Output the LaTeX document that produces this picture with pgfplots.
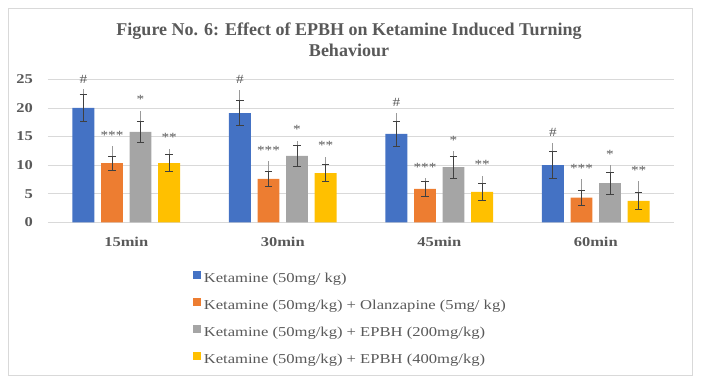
\documentclass[border=0pt]{standalone}
\usepackage{pgfplots}
\pgfplotsset{compat=1.18}
\usepackage{pgfplotstable}
\usepackage{fontspec}
\setmainfont[FakeStretch=1.22]{Liberation Serif}
\newfontfamily\titlefont{Liberation Serif}
\definecolor{cblue}{HTML}{4472C4}
\definecolor{corange}{HTML}{ED7D31}
\definecolor{cgray}{HTML}{A5A5A5}
\definecolor{cyellow}{HTML}{FFC000}
\definecolor{gridc}{HTML}{D9D9D9}
\definecolor{txtc}{HTML}{595959}
\definecolor{errc}{HTML}{404040}
\definecolor{lightc}{HTML}{9A9A9A}

\pgfplotstableread{
x y err top laby
0 20.0 2.3 23.25 24.3
1 19.1 2.25 23.1 24.3
2 15.45 2.25 19.05 20.2
3 10.0 2.3 13.8 14.98
}\tblue
\pgfplotstableread{
x y err top laby
0 10.35 1.2 13.3 14.4
1 7.6 1.3 10.8 11.83
2 5.85 1.3 7.7 8.85
3 4.3 1.3 7.6 8.68
}\torange
\pgfplotstableread{
x y err top laby
0 15.8 1.85 19.5 20.75
1 11.6 1.85 14.2 15.5
2 9.65 1.9 12.4 13.64
3 6.85 1.9 10.0 11.19
}\tgray
\pgfplotstableread{
x y err top laby
0 10.35 1.5 12.9 14.05
1 8.6 1.5 11.5 12.75
2 5.3 1.5 8.1 9.38
3 3.75 1.5 7.2 8.39
}\tyellow

\pgfplotsset{
  darkerr/.style={draw=none, forget plot, error bars/.cd, y dir=both, y explicit,
    error bar style={draw=errc, line width=0.9pt},
    error mark options={rotate=90, draw=errc, line width=0.9pt, mark size=3.7pt}},
  lighterr/.style={draw=none, forget plot, error bars/.cd, y dir=plus, y explicit, error mark=none,
    error bar style={draw=lightc, line width=0.9pt}},
}

\begin{document}
\begin{tikzpicture}
\begin{axis}[
  scale only axis, width=626pt, height=143pt,
  xmin=-0.5, xmax=3.5, ymin=0, ymax=25,
  xtick={0,1,2,3}, xticklabels={15min,30min,45min,60min},
  ytick={0,5,...,25},
  ymajorgrids, grid style={draw=gridc, line width=0.8pt},
  axis line style={draw=none},
  major tick length=0,
  /pgf/number format/assume math mode=true,
  tick label style={font=\bfseries\fontsize{13.5}{13.5}\selectfont, text=txtc},
  yticklabel style={inner sep=0pt, xshift=-15pt},
  xticklabel style={inner sep=0pt, yshift=-15pt},
  clip=false,
  legend style={at={(axis description cs:0.2316,-0.34)}, anchor=north west,
    draw=none, fill=none, font=\fontsize{13.6}{13.6}\selectfont, text=txtc,
    inner sep=0pt, row sep=12.8pt, column sep=3pt,
    nodes={inner sep=0pt, text height=10pt, text depth=3pt}},
  legend cell align=left,
  legend image code/.code={\fill[#1] (0pt,0pt) rectangle (7.7pt,7.7pt);},
  every node near coord/.style={anchor=base, font=\fontsize{12.5}{12.5}\selectfont, text=txtc},
]
% bars
\addplot[ybar, bar width=0.14, bar shift=-0.274, fill=cblue, draw=none]
  table[x=x, y=y] {\tblue};
\addlegendentry{Ketamine (50mg/ kg)}
\addplot[ybar, bar width=0.14, bar shift=-0.091, fill=corange, draw=none]
  table[x=x, y=y] {\torange};
\addlegendentry{Ketamine (50mg/kg) + Olanzapine (5mg/ kg)}
\addplot[ybar, bar width=0.14, bar shift=0.091, fill=cgray, draw=none]
  table[x=x, y=y] {\tgray};
\addlegendentry{Ketamine (50mg/kg) + EPBH (200mg/kg)}
\addplot[ybar, bar width=0.14, bar shift=0.274, fill=cyellow, draw=none]
  table[x=x, y=y] {\tyellow};
\addlegendentry{Ketamine (50mg/kg) + EPBH (400mg/kg)}

% light upper lines
\addplot[lighterr] table[x expr=\thisrow{x}-0.274, y expr=\thisrow{y}+\thisrow{err}, y error expr=\thisrow{top}-\thisrow{y}-\thisrow{err}] {\tblue};
\addplot[lighterr] table[x expr=\thisrow{x}-0.091, y expr=\thisrow{y}+\thisrow{err}, y error expr=\thisrow{top}-\thisrow{y}-\thisrow{err}] {\torange};
\addplot[lighterr] table[x expr=\thisrow{x}+0.091, y expr=\thisrow{y}+\thisrow{err}, y error expr=\thisrow{top}-\thisrow{y}-\thisrow{err}] {\tgray};
\addplot[lighterr] table[x expr=\thisrow{x}+0.274, y expr=\thisrow{y}+\thisrow{err}, y error expr=\thisrow{top}-\thisrow{y}-\thisrow{err}] {\tyellow};

% dark error bars
\addplot[darkerr] table[x expr=\thisrow{x}-0.274, y=y, y error=err] {\tblue};
\addplot[darkerr] table[x expr=\thisrow{x}-0.091, y=y, y error=err] {\torange};
\addplot[darkerr] table[x expr=\thisrow{x}+0.091, y=y, y error=err] {\tgray};
\addplot[darkerr] table[x expr=\thisrow{x}+0.274, y=y, y error=err] {\tyellow};

% significance labels
\addplot[draw=none, forget plot, nodes near coords={\#}]
  table[x expr=\thisrow{x}-0.274, y=laby] {\tblue};
\addplot[draw=none, forget plot, nodes near coords={***}]
  table[x expr=\thisrow{x}-0.091, y=laby] {\torange};
\addplot[draw=none, forget plot, nodes near coords={*}]
  table[x expr=\thisrow{x}+0.091, y=laby] {\tgray};
\addplot[draw=none, forget plot, nodes near coords={**}]
  table[x expr=\thisrow{x}+0.274, y=laby] {\tyellow};
\end{axis}
\draw[gridc, line width=0.8pt] (-40pt,-152.7pt) rectangle (644pt,214.3pt);
\node[align=center, font=\titlefont\bfseries\fontsize{18}{21}\selectfont, text=txtc] at (301pt,182.3pt)
  {Figure No. 6: Effect of EPBH on Ketamine Induced Turning\\Behaviour};
\path[use as bounding box] (-48pt,-157.7pt) rectangle (654pt,222.3pt);
\end{tikzpicture}
\end{document}
